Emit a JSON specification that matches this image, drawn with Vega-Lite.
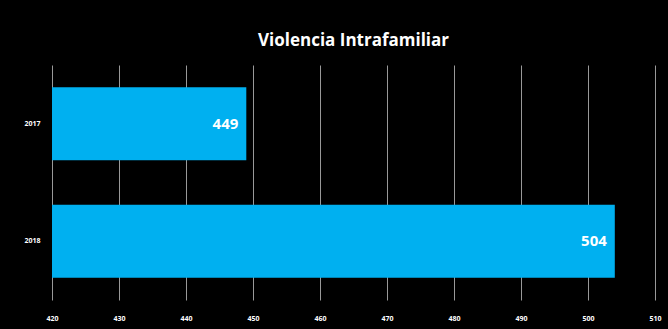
{
  "$schema": "https://vega.github.io/schema/vega-lite/v6.json",
  "width": 603,
  "height": 235,
  "autosize": {"type": "none"},
  "padding": {"left": 52, "top": 65, "right": 13, "bottom": 29},
  "background": "#000000",
  "title": {
    "text": "Violencia Intrafamiliar",
    "color": "#ffffff",
    "font": "Open Sans",
    "fontSize": 17,
    "fontWeight": "bold",
    "anchor": "middle",
    "offset": 15
  },
  "config": {
    "view": {"stroke": null},
    "font": "Open Sans"
  },
  "data": {
    "values": [
      {"year": "2017", "value": 449},
      {"year": "2018", "value": 504}
    ]
  },
  "encoding": {
    "y": {
      "field": "year",
      "type": "nominal",
      "sort": ["2017", "2018"],
      "scale": {"paddingInner": 0.38, "paddingOuter": 0.19},
      "axis": {
        "title": null,
        "domain": false,
        "ticks": false,
        "labelColor": "#ffffff",
        "labelFontSize": 7,
        "labelFontWeight": "bold",
        "labelPadding": 12
      }
    }
  },
  "layer": [
    {
      "mark": {"type": "bar", "color": "#00B0F0"},
      "encoding": {
        "x": {
          "field": "value",
          "type": "quantitative",
          "scale": {"domain": [420, 510], "zero": false, "nice": false},
          "axis": {
            "title": null,
            "values": [420, 430, 440, 450, 460, 470, 480, 490, 500, 510],
            "grid": true,
            "gridColor": "#bfbfbf",
            "gridWidth": 1,
            "gridOpacity": 0.8,
            "domain": false,
            "ticks": false,
            "labelFlush": false,
            "labelColor": "#ffffff",
            "labelFontSize": 7,
            "labelFontWeight": "bold",
            "labelPadding": 14
          }
        },
        "x2": {"datum": 420}
      }
    },
    {
      "mark": {
        "type": "text",
        "align": "right",
        "baseline": "middle",
        "dx": -8,
        "color": "#ffffff",
        "fontSize": 15,
        "fontWeight": "bold"
      },
      "encoding": {
        "x": {"field": "value", "type": "quantitative"},
        "text": {"field": "value", "type": "quantitative"}
      }
    }
  ]
}
